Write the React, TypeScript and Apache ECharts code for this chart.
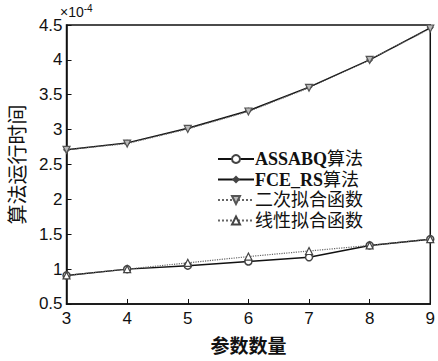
import React, { useEffect, useRef } from "react";
import * as echarts from "echarts";

const xValues = [3, 4, 5, 6, 7, 8, 9];
const fceRs = [2.71, 2.81, 3.02, 3.27, 3.61, 4.0, 4.46];
const quadFit = [2.71, 2.80, 3.01, 3.26, 3.60, 4.0, 4.45];
const assabq = [0.91, 1.0, 1.05, 1.11, 1.17, 1.34, 1.43];
const linearFit = [0.91, 1.0, 1.09, 1.18, 1.26, 1.34, 1.43];
const seriesNames = ["ASSABQ算法", "FCE_RS算法", "二次拟合函数", "线性拟合函数"];

const pairs = (ys: number[]) => xValues.map((x, i) => [x, ys[i]]);

export default function App() {
  const ref = useRef<HTMLDivElement>(null);
  useEffect(() => {
    document.body.style.margin = "0";
    const chart = echarts.init(ref.current!, null, { renderer: "svg" });
    const sansFont = "'Liberation Sans', Arial, sans-serif";
    const cjkFont = "'Liberation Serif', 'Noto Sans CJK SC', serif";
    chart.setOption({
      animation: false,
      backgroundColor: "#fff",
      grid: { left: 62, right: 6, top: 25, bottom: 46, show: true, borderColor: "#111", borderWidth: 1.5 },
      xAxis: {
        type: "value", min: 3, max: 9, interval: 1,
        name: "参数数量", nameLocation: "middle", nameGap: 33,
        nameTextStyle: { fontFamily: cjkFont, fontSize: 19, fontWeight: "bold", color: "#111" },
        axisLine: { lineStyle: { color: "#111", width: 1.5 } },
        axisTick: { inside: true, length: 5, lineStyle: { color: "#111" } },
        axisLabel: { fontFamily: sansFont, fontSize: 17, color: "#111", margin: 6 },
        splitLine: { show: false },
      },
      yAxis: {
        type: "value", min: 0.5, max: 4.5, interval: 0.5,
        name: "算法运行时间", nameLocation: "middle", nameGap: 36, nameRotate: 90,
        nameTextStyle: { fontFamily: cjkFont, fontSize: 20, color: "#111" },
        axisLine: { show: true, lineStyle: { color: "#111", width: 1.5 } },
        axisTick: { show: true, inside: true, length: 5, lineStyle: { color: "#111" } },
        axisLabel: { fontFamily: sansFont, fontSize: 17, color: "#111", margin: 4 },
        splitLine: { show: false },
      },
      legend: {
        orient: "vertical", left: 212, top: 145, itemWidth: 36, itemHeight: 10, itemGap: 2.5,
        data: seriesNames,
        formatter: (name: string) => {
          const m = name.match(/^([A-Za-z_]*)(.*)$/);
          const latin = m ? m[1] : "";
          const rest = m ? m[2] : name;
          return (latin ? `{b|${latin}}` : "") + `{c|${rest}}`;
        },
        textStyle: {
          fontFamily: cjkFont, fontSize: 18, lineHeight: 18, color: "#111", padding: [0, 0, 0, -4],
          rich: {
            b: { fontFamily: cjkFont, fontSize: 18, lineHeight: 18, fontWeight: "bold", color: "#111" },
            c: { fontFamily: cjkFont, fontSize: 18, lineHeight: 18, color: "#111" },
          },
        },
      },
      graphic: [
        {
          type: "text", left: 60, top: 3,
          style: {
            text: "×10{sup|-4}", fontFamily: sansFont, fontSize: 14, fill: "#111",
            rich: { sup: { fontSize: 10, verticalAlign: "top", padding: [0, 0, 8, 0], fontFamily: sansFont } },
          },
        },
      ],
      series: [
        {
          name: seriesNames[0], type: "line", data: pairs(assabq),
          symbol: "circle", symbolSize: 7,
          lineStyle: { color: "#111", width: 1.5 },
          itemStyle: { color: "#fff", borderColor: "#444", borderWidth: 1.5 },
        },
        {
          name: seriesNames[1], type: "line", data: pairs(fceRs),
          symbol: "diamond", symbolSize: 6,
          lineStyle: { color: "#111", width: 1.5 },
          itemStyle: { color: "#444", borderColor: "#444" },
        },
        {
          name: seriesNames[2], type: "line", data: pairs(quadFit),
          symbol: "triangle", symbolRotate: 180, symbolSize: 7,
          lineStyle: { color: "#666", width: 1.2, type: "dotted" },
          itemStyle: { color: "#bbb", borderColor: "#555", borderWidth: 1.2 },
        },
        {
          name: seriesNames[3], type: "line", data: pairs(linearFit),
          symbol: "triangle", symbolSize: 7,
          lineStyle: { color: "#666", width: 1.2, type: "dotted" },
          itemStyle: { color: "#fff", borderColor: "#444", borderWidth: 1.2 },
        },
      ],
    });
    return () => chart.dispose();
  }, []);
  return <div ref={ref} style={{ width: 438, height: 361 }} />;
}
